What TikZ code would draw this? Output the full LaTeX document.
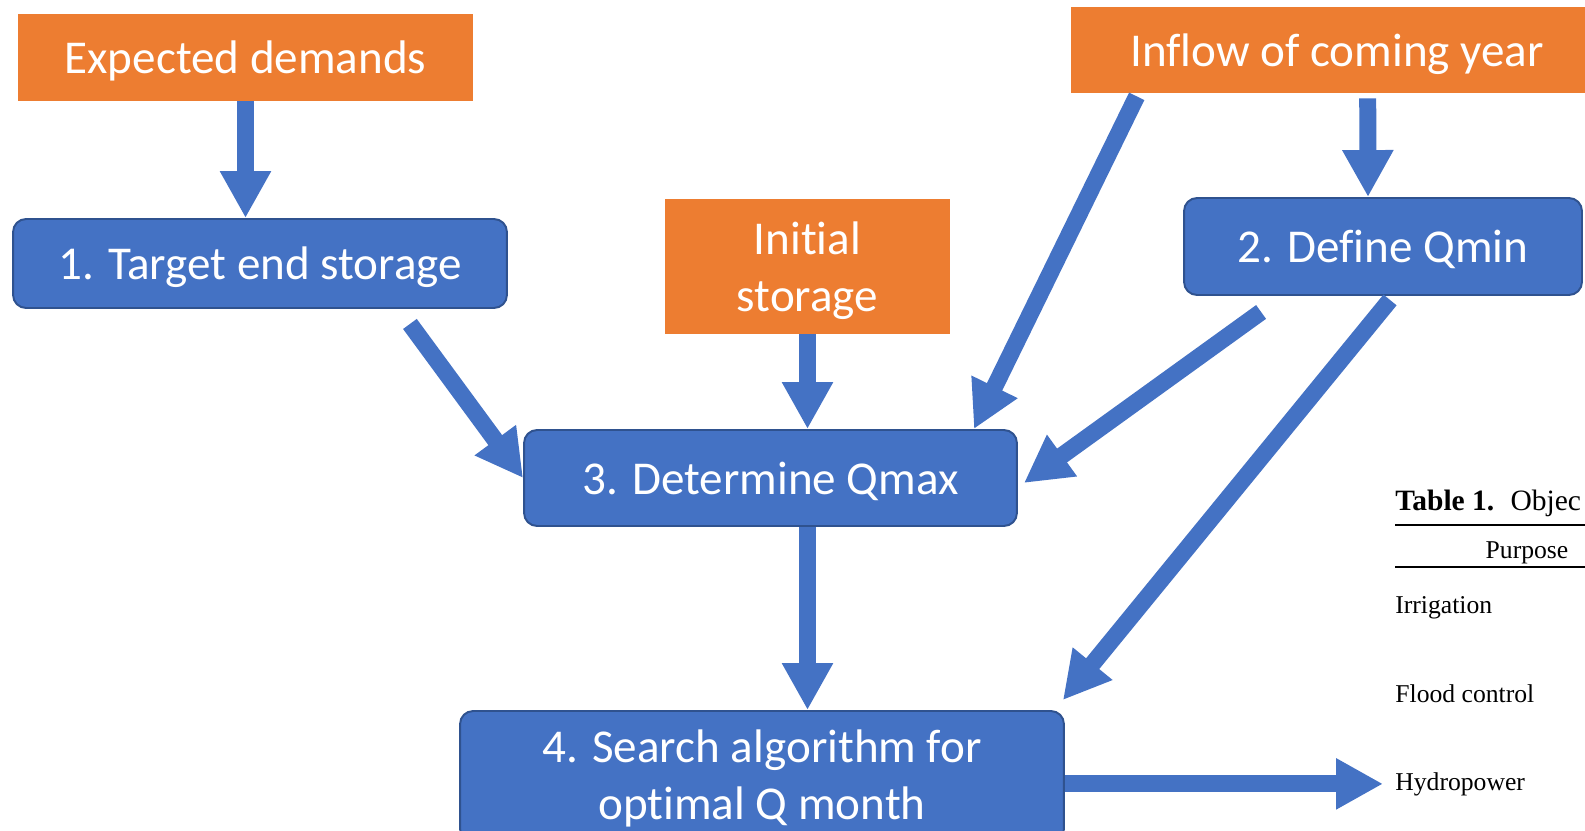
\documentclass[tikz,border=0pt]{standalone}
\usepackage{fontspec}
\setmainfont{Carlito}[Ligatures=NoCommon]
\newfontfamily\tablefont{Liberation Serif}
\usetikzlibrary{arrows.meta}
\definecolor{boxblue}{HTML}{4472C4}
\definecolor{edgeblue}{HTML}{2F528F}
\definecolor{boxorange}{HTML}{ED7D31}

\begin{document}
\begin{tikzpicture}[
            x=0.02cm, y=-0.02cm,
            every node/.style={text=white, align=center, inner sep=0pt, font=\fontsize{26.8}{32.5}\selectfont},
            inputnode/.style={fill=boxorange, text depth=0pt},
            stepnode/.style={fill=boxblue, draw=edgeblue, line width=1.1pt, rounded corners=0.26cm, text depth=0pt},
            flow/.style={draw=boxblue, line width=0.34cm, -{Triangle[width=0.96cm,length=0.94cm]}},
            tabletext/.style={text=black, anchor=base west, font=\tablefont\fontsize{14.6}{17}\selectfont}
            ]
            \useasboundingbox (0,0) rectangle (1585,831);
            \clip (0,0) rectangle (1585,831);

            \node[inputnode, minimum width=9.1cm, minimum height=1.74cm] (demandnode) at (245.5,57.5) {Expected demands};
            \node[stepnode, minimum width=9.88cm, minimum height=1.78cm] (targetnode) at (260,263.5) {1. Target end storage};
            \node[inputnode, minimum width=5.7cm, minimum height=2.7cm] (initnode) at (807.5,266.5) {Initial\\storage};
            \node[inputnode, minimum width=10.64cm, minimum height=1.72cm] (inflownode) at (1337,50) {Inflow of coming year};
            \node[stepnode, minimum width=7.96cm, minimum height=1.94cm] (qminnode) at (1383,246.5) {2. Define Qmin};
            \node[stepnode, minimum width=9.86cm, minimum height=1.92cm] (qmaxnode) at (770.5,478) {3. Determine Qmax};
            \node[stepnode, text depth=0.2em, minimum width=12.08cm, minimum height=2.62cm] (searchnode) at (762,776.5) {4. Search algorithm for\\optimal Q month};

            \node[tabletext, font=\tablefont\fontsize{16.8}{19}\selectfont] (titlenode) at (1395,510) {\textbf{Table 1.}\hspace{0.55em}Objec};
            \node[tabletext, anchor=base] (purposenode) at (1527,558) {Purpose};
            \foreach \y/\t/\n in {613/Irrigation/irrnode, 702/Flood control/floodnode, 790/Hydropower/hydronode}{
                \node[tabletext] (\n) at (1395,\y) {\t};
            }
            \draw[line width=0.6pt] (1395,525) -- (1585,525);
            \draw[line width=0.6pt] (1395,567) -- (1585,567);

            \draw[flow] (demandnode.south) -- (demandnode.south |- targetnode.north);
            \draw[flow] ([shift={(-98,15)}]targetnode.south east) -- (qmaxnode.west);
            \draw[flow] (initnode.south) -- (initnode.south |- qmaxnode.north);
            \draw[flow] ([shift={(66,3)}]inflownode.south west) -- ([shift={(-44,0)}]qmaxnode.north east);
            \draw[flow] ([shift={(297,5)}]inflownode.south west) -- ([shift={(-15,0)}]qminnode.north);
            \draw[flow] ([shift={(78,16)}]qminnode.south west) -- ([shift={(6,5)}]qmaxnode.east);
            \draw[flow] ([shift={(7,4)}]qminnode.south) -- ([shift={(-2,-10)}]searchnode.north east);
            \draw[flow] (initnode.south |- qmaxnode.south) -- (initnode.south |- searchnode.north);
            \draw[flow, shorten >=0.24cm] (hydronode.west -| searchnode.east) -- (hydronode.west);
        \end{tikzpicture}
\end{document}
